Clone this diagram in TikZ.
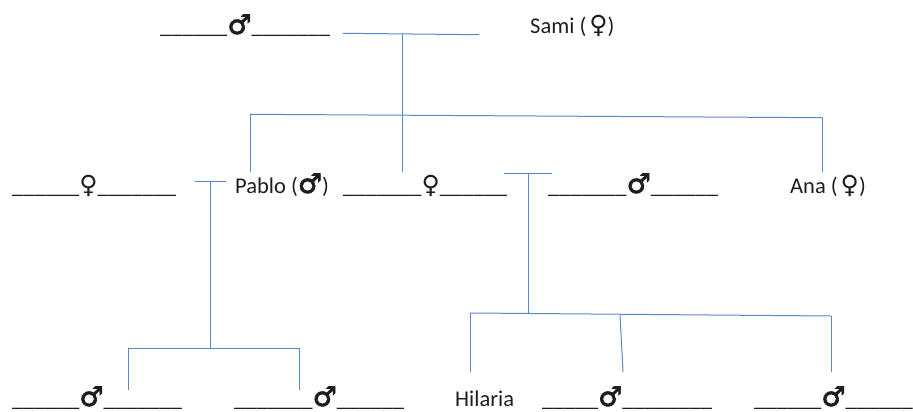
\documentclass[tikz,border=0pt]{standalone}
\usepackage{fontspec}
\setmainfont{Carlito}
\newfontfamily\malefont[FakeBold=2.5]{DejaVu Sans}
\newfontfamily\femalefont{DejaVu Sans}
\newcommand{\Male}{{\malefont\fontsize{27}{27}\selectfont ♂}}
\newcommand{\Female}{{\femalefont\fontsize{25}{25}\selectfont ♀}}
\newcount\blankcnt
\newcommand{\bl}[1]{\blankcnt=0 \loop\_\advance\blankcnt by 1 \ifnum\blankcnt<#1\repeat}
\definecolor{linkblue}{HTML}{5B87CC}
\definecolor{ink}{HTML}{1E1E1E}
\tikzset{
  lbl/.style={inner sep=0pt, anchor=base west, text=ink, font=\fontsize{22.5}{26}\selectfont},
  link/.style={draw=linkblue, line width=1pt}
}
\begin{document}
\begin{tikzpicture}[x=1pt,y=-1pt]
\useasboundingbox (0,0) rectangle (913,412);

% generation 1
\node[lbl] (g1m) at (160,34) {\bl{6}\Male\bl{7}};
\node[lbl] (sami) at (530,34) {Sami (\kern3pt\Female)};

% generation 2
\node[lbl] (g2a) at (12,193) {\bl{6}\Female\bl{7}};
\node[lbl] (pablo) at (235,193) {Pablo (\Male)};
\node[lbl] (g2b) at (343,193) {\bl{7}\Female\bl{6}};
\node[lbl] (g2c) at (548,193) {\bl{7}\Male\bl{6}};
\node[lbl] (ana) at (790,193) {Ana (\kern3pt\Female)};

% generation 3
\node[lbl] (g3a) at (12,406) {\bl{6}\Male\bl{7}};
\node[lbl] (g3b) at (234,406) {\bl{7}\Male\bl{6}};
\node[lbl] (hilaria) at (455,406) {Hilaria};
\node[lbl] (g3c) at (542,406) {\bl{5}\Male\bl{8}};
\node[lbl] (g3d) at (754,406) {\bl{6}\Male\bl{6}};

% marriage bars and descent lines
\coordinate (m1l) at (343,33.3);
\coordinate (m1r) at (479,34.7);
\coordinate (m1) at (402,33.8);
\coordinate (s1l) at (250,114.3);
\coordinate (s1r) at (822.7,117.7);
\coordinate (s1) at (402,115.2);
\draw[link] (m1l) -- (m1r);
\draw[link] (m1) -- (402,172);
\draw[link] (s1l) -- (s1r);
\draw[link] (s1l) -- (250,171.7);
\draw[link] (s1r) -- (822.7,171.7);

% Pablo's family
\coordinate (m2l) at (194.7,181.7);
\coordinate (m2r) at (225.7,181.7);
\coordinate (m2) at (210,181.7);
\coordinate (s2) at (210,348);
\coordinate (s2l) at (128,348);
\coordinate (s2r) at (299,348);
\draw[link] (m2l) -- (m2r);
\draw[link] (m2) -- (s2);
\draw[link] (s2l) -- (s2r);
\draw[link] (s2l) -- (128,390);
\draw[link] (s2r) -- (299,390);

% second family
\coordinate (m3l) at (504.3,173);
\coordinate (m3r) at (552.3,173);
\coordinate (m3) at (528.7,173);
\coordinate (s3) at (528.7,314);
\coordinate (s3l) at (470,313);
\coordinate (s3m) at (620,314.5);
\coordinate (s3r) at (831,316);
\draw[link] (m3l) -- (m3r);
\draw[link] (m3) -- (s3);
\draw[link] (s3l) -- (s3r);
\draw[link] (s3l) -- (470,372);
\draw[link] (s3m) -- (623,372);
\draw[link] (s3r) -- (831,372);
\end{tikzpicture}
\end{document}
